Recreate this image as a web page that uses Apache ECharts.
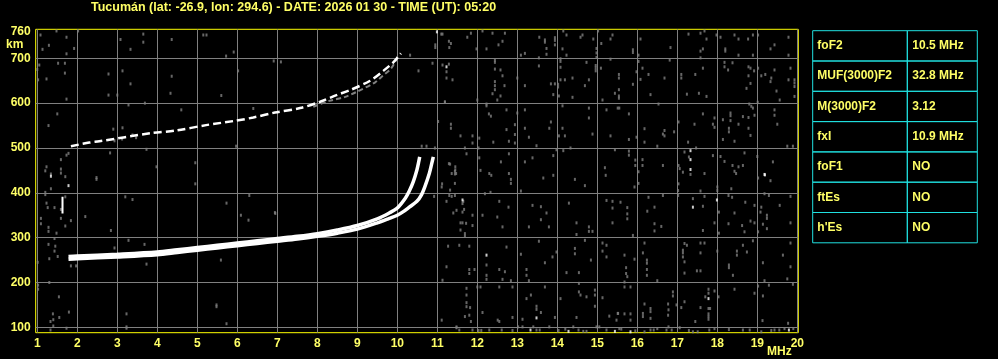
<!DOCTYPE html>
<html><head><meta charset="utf-8">
<script src="https://cdn.jsdelivr.net/npm/echarts@6/dist/echarts.min.js"></script>
<style>html,body{margin:0;padding:0;background:#000;}#c{width:998px;height:359px;}</style>
</head><body><div id="c"></div>
<script>
const titleText = 'Tucumán (lat: -26.9, lon: 294.6) - DATE: 2026 01 30 - TIME (UT): 05:20';
const xTicks = [1,2,3,4,5,6,7,8,9,10,11,12,13,14,15,16,17,18,19,20];
const yGridTicks = [100,200,300,400,500,600,700];
const yLabelTicks = [100,200,300,400,500,600,700,760];
const tableLabels = ['foF2','MUF(3000)F2','M(3000)F2','fxI','foF1','ftEs',"h'Es"];
const tableValues = ['10.5 MHz','32.8 MHz','3.12','10.9 MHz','NO','NO','NO'];

// F2 ordinary trace (MHz, km)
const oTrace = [[1.78,258],[2,259],[3,263],[4,268],[4.5,273],[5,278],[5.5,283],[6,288],[6.5,293],[7,298],[7.5,303],[8,309],[8.5,317],[9,327],[9.5,342],[9.8,355],[10,366],[10.2,388],[10.3,404],[10.4,425],[10.49,451],[10.54,471],[10.56,480]];
// F2 extraordinary trace
const xTrace = [[1.78,252],[2,253],[3,257],[4,262],[4.5,267],[5,272],[5.5,277],[6,282],[6.5,287],[7,292],[7.5,297],[8,303],[8.5,310],[9,319],[9.5,333],[9.8,343],[10,350],[10.15,358],[10.3,368],[10.49,381],[10.6,395],[10.69,414],[10.8,443],[10.86,465],[10.9,480]];
// second hop traces
const twoHopTrace = [[1.84,504],[2.3,512],[2.55,515],[3.84,533],[4.47,539],[5.22,551],[5.97,561],[6.4,568],[6.94,579],[7.57,589],[8.07,603],[8.48,618],[8.82,629],[9.32,650],[9.65,672],[9.9,691],[10.09,711]];
const twoHopX = [[7.9,592],[8.3,605],[8.7,614],[8.98,625],[9.44,646],[9.61,659],[9.85,678],[10.01,704]];
const spike = [[1.63,354],[1.63,391]];

const noiseWhite = [[1.34,437],[1.78,416],[11.23,681],[11.63,384],[12.23,261],[13.48,121],[13.33,94],[14.28,91],[15.44,91],[10.99,759],[17.39,368],[17.99,384],[17.78,164],[17.33,494],[17.33,474],[17.33,452],[19.18,441],[15.83,90],[19.79,94],[19.19,440]];

const noiseGray = [
[1.08,752],[1.13,720],[1.29,729],[1.48,761],[1.73,747],[1.73,710],[2.02,761],[1.05,685],[1.0,675],[1.52,689],[1.69,689],[1.69,667],[1.23,654],[1.02,652],[1.73,609],[1.5,576],[1.92,722],[3.08,742],[3.33,720],[3.13,672],[2.78,665],[3.33,643],[2.78,618],[3.0,618],[3.28,596],[3.69,600],[4.33,622],[3.65,754],[3.65,736],[4.36,742],[4.36,660],[5.15,752],[5.23,752],[4.6,585],[5.72,705],[5.6,617],[5.91,714],[6.02,672],[6.91,694],[6.4,588],
[1.28,550],[2.9,542],[3.13,545],[3.38,529],[3.47,523],[3.12,520],[2.93,516],[3.73,497],[2.82,489],[1.78,488],[1.73,484],[1.59,474],[1.23,458],[1.2,449],[1.34,442],[1.59,453],[1.59,444],[1.7,436],[2.48,434],[2.48,430],[1.34,409],[1.2,401],[1.2,396],[1.7,391],[1.23,377],[1.43,367],[1.26,367],[1.59,363],[1.09,343],[1.09,331],[1.28,323],[1.28,314],[1.48,310],[1.7,326],[1.59,343],[1.84,338],[2.2,347],[2.84,316],[3.2,391],[3.38,385],[3.98,458],[4.95,467],[4.95,420],[5.73,377],[6.3,394],[6.09,350],[6.28,339],[6.95,354],[1.43,298],[1.28,285],[1.45,281],[1.43,270],[1.51,258],[1.3,253],[1.01,245],[1.97,237],[1.84,237],[2.93,277],[3.28,294],[3.68,285],[3.73,241],[5.59,250],[5.97,504],
[1.02,194],[1.02,185],[1.3,200],[1.54,168],[1.39,130],[1.33,113],[1.4,117],[1.55,122],[1.79,134],[1.4,103],[1.73,98],[1.33,94],[3.23,130],[3.23,101],[3.23,98],[5.48,150],[5.48,146],[5.73,108],
[7.09,692],[10.61,504],[10.73,504],[10.94,500],[11.32,464],[11.45,458],[11.45,451],[11.12,420],[11.32,406],[11.65,381],[11.67,363],[10.92,392],[6.94,356],[11.72,332],[11.58,317],[11.27,281],[10.95,730],[10.95,724],[11.1,754],[10.53,672],[10.88,689],[11.02,559],[11.19,603],[10.32,707],
[11.13,754],[11.29,738],[11.34,733],[11.3,724],[11.84,756],[12.13,761],[12.38,756],[12.69,756],[12.63,738],[12.53,730],[12.23,721],[11.75,747],[11.98,721],[13.09,707],[13.19,711],[13.55,747],[13.69,741],[13.69,736],[13.73,722],[13.73,709],[13.94,746],[13.94,740],[13.94,730],[14.15,761],[14.23,752],[14.13,721],[14.23,707],[14.63,752],[14.58,747],[14.9,743],[14.98,722],[14.98,712],[14.98,702],[15.02,761],[15.1,733],[15.33,743],[15.38,752],[15.33,698],[11.13,685],[11.29,687],[11.23,670],[11.23,656],[11.38,652],[12.44,696],[12.44,691],[12.44,676],[12.58,674],[12.63,661],[12.44,648],[12.44,639],[12.68,639],[12.44,630],[12.38,621],[12.58,616],[12.5,607],[12.23,598],[12.23,594],[12.0,607],[11.19,602],[13.0,656],[13.19,639],[13.54,701],[13.54,683],[13.84,643],[13.94,643],[14.02,642],[14.02,636],[14.08,699],[14.08,693],[14.08,680],[14.08,652],[14.19,652],[14.38,656],[13.9,619],[14.04,616],[14.38,613],[14.73,691],[14.79,652],[14.69,639],[14.96,678],[14.96,672],[14.96,684],[15.09,678],[15.13,607],[15.44,622],[15.54,616],
[11.34,553],[11.34,544],[11.58,527],[11.88,527],[11.88,511],[12.05,522],[12.29,576],[12.34,571],[12.73,585],[12.94,552],[12.94,530],[13.0,578],[13.19,585],[13.19,544],[13.29,524],[12.73,541],[12.4,513],[12.79,515],[12.94,511],[13.48,505],[13.8,544],[13.84,558],[14.13,594],[14.13,544],[14.04,527],[14.19,527],[14.79,589],[14.79,567],[14.88,531],[15.23,585],[15.33,527],[15.55,589],
[11.69,500],[11.73,487],[12.05,478],[12.03,500],[11.44,448],[11.44,442],[11.29,465],[11.36,443],[11.47,443],[12.08,450],[12.3,443],[12.35,439],[12.59,469],[12.79,487],[12.79,443],[12.84,430],[13.19,469],[13.38,478],[13.65,433],[13.9,483],[13.9,439],[13.98,496],[14.15,494],[14.33,500],[14.44,430],[15.19,456],[15.21,439],[15.44,496],
[16.08,743],[15.89,713],[15.89,719],[16.03,707],[16.03,693],[16.13,678],[15.98,670],[16.08,653],[16.28,664],[15.89,642],[15.54,664],[15.54,656],[15.54,630],[15.54,611],[16.33,619],[16.68,656],[16.83,724],[16.81,696],[17.28,754],[17.58,756],[17.68,761],[17.73,743],[17.64,721],[17.58,716],[17.58,701],[17.1,664],[17.1,656],[17.45,664],[17.64,678],[17.24,620],[17.54,622],[17.73,615],[17.98,752],[18.08,747],[18.2,721],[18.2,716],[18.43,752],[18.53,743],[18.53,707],[18.77,743],[18.89,752],[19.02,752],[18.89,707],[18.18,691],[18.38,690],[18.18,681],[18.27,674],[18.78,681],[18.83,678],[18.92,672],[19.02,678],[18.78,661],[18.83,644],[18.73,633],[19.1,661],[19.2,664],[19.33,648],[19.43,674],[19.35,656],[19.48,627],[19.33,721],[19.43,730],[19.78,747],[19.78,707],[19.83,678],[19.93,652],[19.93,645],[19.93,637],[19.78,652],[19.93,615],[19.56,607],[19.01,602],
[15.51,589],[15.79,576],[16.18,543],[15.79,519],[15.98,524],[16.18,513],[16.5,504],[16.68,539],[16.68,527],[16.64,531],[16.92,536],[16.53,598],[17.03,558],[17.43,553],[17.64,576],[17.93,567],[17.89,553],[17.93,546],[18.14,563],[18.33,578],[18.33,572],[18.33,561],[18.29,544],[18.29,536],[18.53,553],[18.64,570],[18.78,568],[18.83,528],[18.78,544],[18.93,573],[18.85,593],[18.89,589],[19.43,585],[19.43,573],[19.5,553],[18.43,515],[18.14,519],[17.27,513],[17.47,500],[18.8,598],
[15.79,493],[15.79,484],[15.95,473],[15.95,461],[16.13,474],[16.13,461],[16.03,447],[16.64,461],[17.03,461],[17.06,454],[17.18,491],[17.29,480],[17.14,446],[17.33,441],[17.68,443],[17.89,483],[18.08,481],[18.18,470],[18.38,461],[18.53,458],[18.43,448],[18.47,443],[18.68,489],[18.64,461],[19.0,481],[19.02,433],[19.39,469],[19.33,427],[19.75,504],[19.89,504],
[11.11,413],[11.44,421],[11.3,394],[11.36,392],[11.44,394],[11.23,381],[11.63,376],[11.63,357],[11.63,333],[11.69,309],[11.69,303],[11.4,355],[11.48,361],[11.58,333],[11.88,350],[11.88,327],[12.13,350],[12.33,401],[12.19,398],[12.55,381],[12.78,368],[12.5,346],[12.63,324],[12.84,421],[13.09,404],[13.38,372],[13.59,369],[13.59,340],[13.73,355],[13.79,324],[13.29,324],[14.29,377],[14.48,333],[14.48,307],[14.79,324],[14.79,314],[14.88,314],[14.69,416],[15.23,383],[15.38,381],[15.38,366],[15.38,333],
[11.55,283],[11.8,281],[11.23,235],[11.13,205],[11.8,229],[11.93,229],[11.8,220],[12.23,239],[12.23,216],[12.23,207],[12.55,229],[12.69,224],[12.63,207],[12.73,279],[12.84,204],[13.09,263],[13.23,229],[13.23,216],[13.29,204],[13.54,292],[13.69,244],[13.88,257],[13.98,268],[14.23,222],[14.44,276],[14.44,264],[14.54,222],[14.69,294],[14.84,250],[15.13,288],[15.23,283],[15.13,270],[15.23,257],
[11.73,187],[11.73,172],[11.73,155],[11.73,146],[11.82,144],[11.8,127],[11.69,124],[11.84,113],[11.11,116],[11.48,101],[12.0,190],[12.08,190],[12.13,133],[12.55,190],[12.51,116],[12.55,113],[12.88,190],[12.88,122],[13.13,118],[13.23,164],[13.34,172],[13.48,147],[13.48,140],[13.59,133],[13.69,190],[13.94,122],[14.08,164],[14.48,122],[14.54,198],[14.54,179],[14.58,172],[14.73,168],[14.94,183],[14.94,172],[14.94,147],[15.13,166],[15.3,125],[15.48,116],[15.51,131],
[11.48,99],[11.88,94],[12.03,93],[12.1,93],[12.3,94],[12.61,94],[12.88,93],[13.02,101],[13.13,101],[13.48,94],[13.56,94],[13.8,101],[14.03,93],[14.4,101],[14.53,94],[14.65,91],[14.73,91],[14.98,101],[15.05,101],[15.23,94],[15.55,97],[11.55,94],[13.4,101],[14.2,96],
[15.93,413],[16.03,421],[17.03,420],[17.02,405],[17.58,404],[18.0,413],[18.0,405],[18.35,409],[15.58,379],[15.75,367],[15.75,353],[15.75,342],[15.89,305],[16.28,390],[16.43,368],[16.25,359],[16.64,394],[16.6,325],[16.43,331],[16.43,315],[17.02,394],[17.39,387],[17.68,392],[17.64,370],[17.64,316],[18.04,357],[17.93,333],[18.28,394],[18.37,390],[18.7,379],[18.43,355],[18.28,331],[18.62,327],[18.68,313],[18.83,337],[18.93,333],[18.93,372],[19.1,368],[19.08,357],[19.24,350],[19.24,343],[19.18,398],[19.29,394],[19.56,372],[19.24,320],[19.02,313],[19.14,330],[19.83,392],[19.83,333],[18.04,310],
[16.18,288],[16.14,266],[15.93,252],[15.68,261],[15.72,233],[15.72,220],[15.75,213],[15.68,201],[16.24,250],[16.24,243],[16.24,229],[16.24,216],[16.5,204],[17.18,287],[17.14,272],[17.14,266],[17.24,283],[17.14,257],[17.18,246],[17.58,288],[17.68,288],[17.58,266],[17.18,221],[17.49,226],[17.58,226],[18.0,270],[18.29,239],[18.29,233],[18.39,216],[18.49,270],[18.49,261],[18.74,268],[18.64,283],[18.89,293],[19.14,244],[19.18,204],[19.64,261],[19.83,288],[19.83,235],[19.75,208],
[15.68,190],[15.83,190],[15.52,131],[15.68,130],[15.83,130],[15.83,116],[16.18,152],[16.33,142],[16.33,135],[16.14,131],[16.14,124],[16.33,120],[16.89,179],[16.89,170],[16.77,152],[16.78,139],[16.77,127],[16.98,150],[17.1,144],[17.18,157],[17.58,144],[17.7,168],[17.78,176],[17.78,185],[17.78,142],[17.78,130],[17.78,124],[17.78,118],[17.93,181],[17.82,142],[18.03,168],[18.43,185],[18.93,176],[19.14,170],[19.02,192],[19.29,194],[19.13,115],[19.77,109],[19.89,196],[17.45,113],
[16.18,90],[16.33,94],[16.41,94],[16.5,97],[16.73,94],[16.78,101],[16.86,94],[17.06,99],[17.29,93],[17.39,90],[17.51,90],[17.8,94],[17.93,97],[18.29,95],[18.64,94],[18.81,94],[19.1,90],[19.35,93],[19.43,94],[19.55,94],[19.68,97],[19.9,97],[15.6,96],[15.95,92]
];

const YELLOW = '#ffff66';
const FONT = 'Liberation Sans';
const chart = echarts.init(document.getElementById('c'));

const tableGraphics = [];
const tx = 812.7, ty = 30.7, rowH = 30.3, c1 = 94.6, c2 = 70;
tableLabels.forEach((lab, i) => {
  const y = ty + i * rowH;
  tableGraphics.push({type:'rect', shape:{x:tx, y:y, width:c1, height:rowH}, style:{fill:'transparent', stroke:'#20e0e0', lineWidth:1}});
  tableGraphics.push({type:'rect', shape:{x:tx + c1, y:y, width:c2, height:rowH}, style:{fill:'transparent', stroke:'#20e0e0', lineWidth:1}});
  tableGraphics.push({type:'text', x:tx + 4.6, y:y + rowH/2, style:{text:lab, fill:YELLOW, font:'bold 12px ' + FONT, textVerticalAlign:'middle'}});
  tableGraphics.push({type:'text', x:tx + c1 + 5, y:y + rowH/2, style:{text:tableValues[i], fill:YELLOW, font:'bold 12px ' + FONT, textVerticalAlign:'middle'}});
});

const scatterBase = {type:'scatter', symbol:'rect', symbolSize:[2,3], silent:true};
const option = {
  backgroundColor:'#000',
  animation:false,
  textStyle:{fontFamily:FONT},
  title:{text:titleText, left:91, top:1, padding:0, textStyle:{color:YELLOW, fontSize:12.5, fontWeight:'bold', fontFamily:FONT, lineHeight:14}},
  grid:{left:35.7, top:29.3, width:762.6, height:303.4, show:true, borderColor:'#ffff00', borderWidth:1, backgroundColor:'transparent'},
  xAxis:{type:'value', min:0.96, max:20.025,
    axisLine:{show:false},
    axisTick:{show:false, customValues:xTicks},
    axisLabel:{customValues:xTicks, color:YELLOW, fontSize:12, fontWeight:'bold', fontFamily:FONT, margin:5},
    splitLine:{show:true, lineStyle:{color:'#808080', width:1}}},
  yAxis:{type:'value', min:88, max:764.7,
    axisLine:{show:false},
    axisTick:{show:false, customValues:yGridTicks},
    axisLabel:{customValues:yLabelTicks, color:YELLOW, fontSize:12, fontWeight:'bold', fontFamily:FONT, margin:5},
    splitLine:{show:true, lineStyle:{color:'#808080', width:1}}},
  graphic:[
    {type:'text', x:6, y:45, style:{text:'km', fill:YELLOW, font:'bold 12px ' + FONT, textVerticalAlign:'middle'}},
    {type:'text', x:767, y:352, style:{text:'MHz', fill:YELLOW, font:'bold 12px ' + FONT, textVerticalAlign:'middle'}},
    ...tableGraphics
  ],
  series:[
    Object.assign({}, scatterBase, {name:'noiseGray', data:noiseGray, itemStyle:{color:'#808080'}}),
    Object.assign({}, scatterBase, {name:'noiseWhite', data:noiseWhite, itemStyle:{color:'#ffffff'}}),
    {type:'line', name:'twoHopX', data:twoHopX, showSymbol:false, smooth:0.3, silent:true, lineStyle:{color:'#808080', width:2, type:[5,3]}},
    {type:'line', name:'twoHop', data:twoHopTrace, showSymbol:false, smooth:0.3, silent:true, lineStyle:{color:'#ffffff', width:2.5, type:[8,4]}},
    {type:'line', name:'xTrace', data:xTrace, showSymbol:false, smooth:0.3, silent:true, lineStyle:{color:'#ffffff', width:3.5}},
    {type:'line', name:'oTrace', data:oTrace, showSymbol:false, smooth:0.3, silent:true, lineStyle:{color:'#ffffff', width:3.5}},
    {type:'line', name:'spike', data:spike, showSymbol:false, silent:true, lineStyle:{color:'#ffffff', width:2}}
  ]
};
chart.setOption(option);
</script></body></html>
